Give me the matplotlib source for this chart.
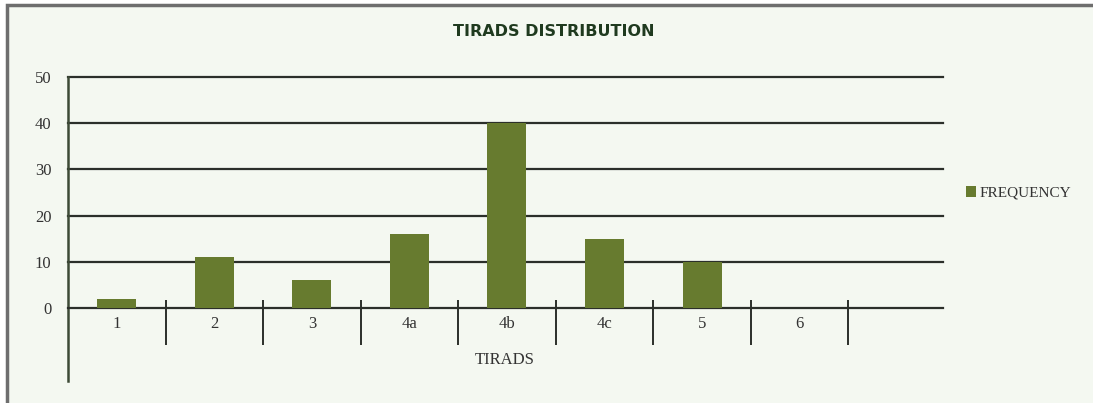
import matplotlib
matplotlib.use("Agg")
import matplotlib.pyplot as plt
from matplotlib.patches import Rectangle

# TIRADS category counts
categories = ["1", "2", "3", "4a", "4b", "4c", "5", "6"]
frequency = [2, 11, 6, 16, 40, 15, 10, 0]
y_ticks = [0, 10, 20, 30, 40, 50]

bar_color = "#677b2f"
bg_color = "#f4f8f1"
line_color = "#2b2f2a"
serif = ["Liberation Serif", "DejaVu Serif"]

fig = plt.figure(figsize=(10.93, 4.03), dpi=100, facecolor="white")

# framed panel behind the chart
fig.patches.append(Rectangle((7 / 1093, -0.2), 1.2, 1.2 - 5 / 403,
                             transform=fig.transFigure, facecolor=bg_color,
                             edgecolor="#6e6e6e", linewidth=2.5, zorder=-5))

ax = fig.add_axes([68 / 1093, 1 - 381 / 403, 875 / 1093, 304 / 403])
ax.set_facecolor("none")
ax.set_zorder(2)

x = list(range(len(categories)))
ax.bar(x, frequency, width=0.4, color=bar_color, zorder=3,
       label="FREQUENCY")

ax.set_xlim(-0.5, len(categories) + 0.47)
ax.set_ylim(-15.8, 50)

# horizontal gridlines
for t in y_ticks[1:]:
    ax.axhline(t, color=line_color, lw=1.6, zorder=1, clip_on=False)

# category separators below the baseline
ax.vlines([i + 0.5 for i in x], -8.0, 1.7, color=line_color, lw=1.4, zorder=2)

for s in ["top", "right"]:
    ax.spines[s].set_visible(False)
ax.spines["left"].set_color("#3d4a36")
ax.spines["left"].set_linewidth(1.8)
ax.spines["bottom"].set_position(("data", 0))
ax.spines["bottom"].set_color(line_color)
ax.spines["bottom"].set_linewidth(1.6)

ax.set_yticks(y_ticks)
ax.set_yticklabels([str(t) for t in y_ticks], family=serif, fontsize=12,
                   color="#333333")
ax.tick_params(axis="y", length=0, pad=12)

ax.set_xticks(x)
ax.set_xticklabels(categories, family=serif, fontsize=12, color="#333333")
ax.tick_params(axis="x", length=0, pad=6)

ax.text(3.98, -11.3, "TIRADS", family=serif, fontsize=12, color="#333333",
        ha="center", va="center")

fig.text(554 / 1093, 1 - 31 / 403, "TIRADS DISTRIBUTION", family="DejaVu Sans",
         fontsize=11.5, fontweight="bold", color="#1f3a1f",
         ha="center", va="center")

leg = ax.legend(loc="center left", bbox_to_anchor=(952 / 1093, 1 - 193 / 403),
                bbox_transform=fig.transFigure, frameon=False,
                handlelength=0.7, handleheight=0.7, handletextpad=0.2,
                prop={"family": serif, "size": 11})
for txt in leg.get_texts():
    txt.set_color("#333333")

fig.savefig("out.png", dpi=100, facecolor=fig.get_facecolor())
